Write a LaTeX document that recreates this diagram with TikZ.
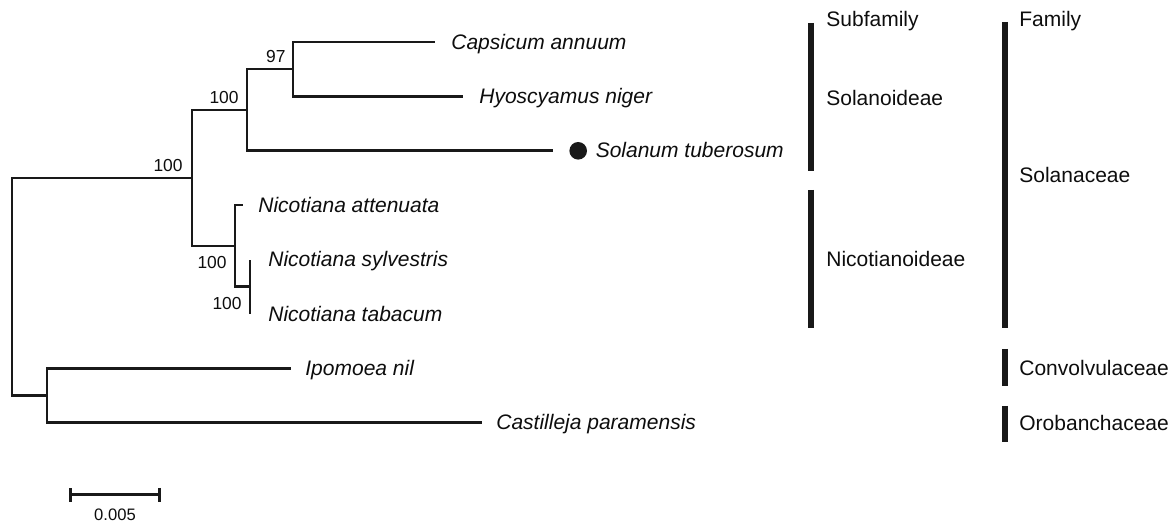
\documentclass[tikz,border=0pt]{standalone}
\usepackage{fontspec}
\setmainfont{Liberation Sans}
\usetikzlibrary{positioning,arrows.meta}

\begin{document}
\begin{tikzpicture}[
    x=0.5pt, y=-0.5pt,
    branch/.style={draw=black!90, line width=1.3pt},
    taxon/.style={inner sep=0pt, text height=0.72em, text depth=0pt, font=\fontsize{10.5}{12}\selectfont\itshape, text=black!95},
    boot/.style={inner sep=0pt, font=\fontsize{8.7}{10}\selectfont, text=black!95},
    grouplab/.style={inner sep=0pt, anchor=base west, font=\fontsize{10.5}{12}\selectfont, text=black!95},
    groupbar/.style={draw=black!90, line width=3pt},
    tipdot/.style={circle, fill=black!90, inner sep=0pt, minimum size=8.8pt},
    scalebar/.style={draw=black!90, line width=1.5pt, {Bar[width=7pt]}-{Bar[width=7pt]}}
]
\useasboundingbox (0,0) rectangle (1175,523);

% internal nodes
\coordinate (root) at (12,286.8);
\coordinate (nA) at (192,178);
\coordinate (nB) at (247,110);
\coordinate (nC) at (293,69.2);
\coordinate (nD) at (235,246);
\coordinate (nE) at (250,286.8);
\coordinate (nF) at (47,395.6);

% branch tips
\coordinate (capT) at (435,42);
\coordinate (hyoT) at (463,96.4);
\coordinate (solT) at (553,150.8);
\coordinate (attT) at (243,205.2);
\coordinate (sylT) at (250,259.6);
\coordinate (tabT) at (250,314);
\coordinate (ipoT) at (291,368.4);
\coordinate (casT) at (482,422.8);

% branches
\draw[branch] (root) |- (nA);
\draw[branch] (root) |- (nF);
\draw[branch] (nA) |- (nB);
\draw[branch] (nA) |- (nD);
\draw[branch] (nB) |- (nC);
\draw[branch] (nB) |- (solT);
\draw[branch] (nC) |- (capT);
\draw[branch] (nC) |- (hyoT);
\draw[branch] (nD) |- (attT);
\draw[branch] (nD) |- (nE);
\draw[branch] (nE) |- (sylT);
\draw[branch] (nE) |- (tabT);
\draw[branch] (nF) |- (ipoT);
\draw[branch] (nF) |- (casT);

% taxa
\node[taxon, right=8pt of capT] (cap) {Capsicum annuum};
\node[taxon, right=8pt of hyoT] (hyo) {Hyoscyamus niger};
\node[tipdot, right=8pt of solT] (dot) {};
\node[taxon, right=4pt of dot] (sol) {Solanum tuberosum};
\node[taxon, right=7.5pt of attT] (att) {Nicotiana attenuata};
\node[taxon, right=9pt of sylT] (syl) {Nicotiana sylvestris};
\node[taxon, right=9pt of tabT] (tab) {Nicotiana tabacum};
\node[taxon, right=7pt of ipoT] (ipo) {Ipomoea nil};
\node[taxon, right=7pt of casT] (cas) {Castilleja paramensis};

% bootstrap values
\node[boot, above left=3.2pt and 4.5pt of nA] (bA) {100};
\node[boot, above left=3.2pt and 4pt of nB] (bB) {100};
\node[boot, above left=3.2pt and 3.5pt of nC] (bC) {97};
\node[boot, below left=5pt and 4pt of nD] (bD) {100};
\node[boot, below left=5pt and 4pt of nE] (bE) {100};

% subfamily and family bars
\draw[groupbar] (811,23) -- (811,171);
\draw[groupbar] (811,190) -- (811,328);
\draw[groupbar] (1005,22) -- (1005,328);
\draw[groupbar] (1005,349) -- (1005,386);
\draw[groupbar] (1005,406) -- (1005,442);

\node[grouplab] (subfam) at (826,27) {Subfamily};
\node[grouplab] (solanoid) at (826,106) {Solanoideae};
\node[grouplab] (nicotoid) at (826,267) {Nicotianoideae};
\node[grouplab] (fam) at (1019,27) {Family};
\node[grouplab] (solanac) at (1019,183) {Solanaceae};
\node[grouplab] (convol) at (1019,375.5) {Convolvulaceae};
\node[grouplab] (oroban) at (1019,430.5) {Orobanchaceae};

% scale bar
\coordinate (sbL) at (69,495);
\coordinate (sbR) at (161,495);
\draw[scalebar] (sbL) -- node[boot, font=\fontsize{8.3}{10}\selectfont, below=6pt] (sblab) {0.005} (sbR);
\end{tikzpicture}
\end{document}
